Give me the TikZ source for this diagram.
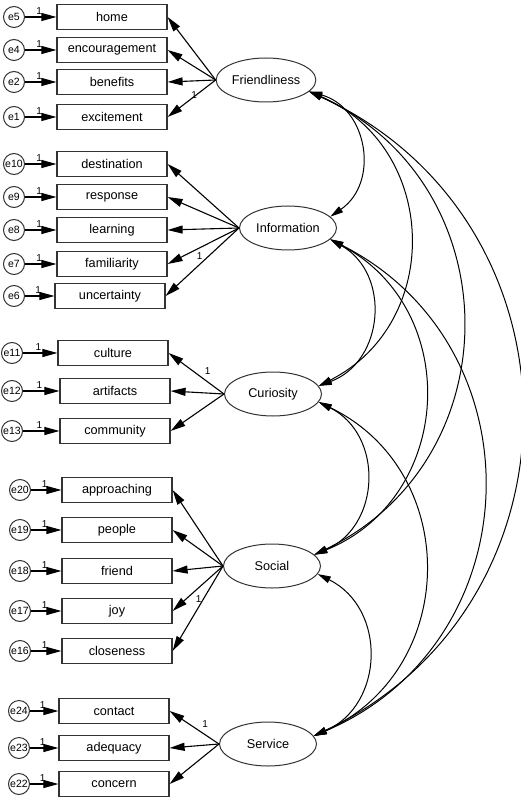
\documentclass[tikz,border=0pt]{standalone}
\usepackage{fontspec}
\setmainfont{Liberation Sans}
\usepackage{tikz}
\usetikzlibrary{shapes.geometric,arrows.meta}

\begin{document}
\begin{tikzpicture}[
    x=1pt, y=1pt,
    ind/.style={rectangle, draw=black!80, line width=1.2pt,
                minimum width=110pt, minimum height=25pt, inner sep=1pt,
                font=\fontsize{12.7}{15}\selectfont},
    lat/.style={ellipse, draw=black!80, line width=1pt,
                minimum width=97pt, minimum height=44pt, inner sep=1pt,
                font=\fontsize{12.7}{15}\selectfont},
    err/.style={circle, draw=black!80, line width=1pt,
                minimum size=21pt, inner sep=0pt,
                font=\fontsize{10.5}{12}\selectfont},
    load/.style={-{Triangle[length=15pt,width=8pt]}, line width=1.1pt},
    cov/.style={{Triangle[length=13pt,width=7pt]}-{Triangle[length=13pt,width=7pt]},
                line width=1pt, bend left=65, looseness=1.22},
    one/.style={font=\fontsize{10}{11}\selectfont, inner sep=0.5pt}
]
\useasboundingbox (0,0) rectangle (520,-799);

% latent factors
\node[lat] (fri) at (266,-80)  {Friendliness};
\node[lat] (inf) at (288,-228) {Information};
\node[lat] (cur) at (273,-394) {Curiosity};
\node[lat] (soc) at (272,-566) {Social};
\node[lat] (ser) at (268,-744) {Service};

% observed items with their errors
\foreach \name/\e/\x/\ex/\y in {
    home/e5/112/14/17, encouragement/e4/112/14/50,
    benefits/e2/112/14/82, excitement/e1/112/14/117,
    destination/e10/112/14/164, response/e9/112/14/197,
    learning/e8/112/14/230, familiarity/e7/112/14/264,
    uncertainty/e6/110/14/296,
    culture/e11/113/12/353, artifacts/e12/115/12/391,
    community/e13/115/12/431,
    approaching/e20/117/20/490, people/e19/117/20/530,
    friend/e18/117/20/571, joy/e17/117/20/611,
    closeness/e16/117/20/651,
    contact/e24/114/19/711, adequacy/e23/114/19/748,
    concern/e22/114/19/784}
{
    \node[ind] (\name) at (\x,-\y) {\name};
    \node[err] (\e) at (\ex,-\y) {\e};
    \draw[load] (\e) -- node[one, pos=0.45, above=1.5pt] {1} (\name);
}

% loadings
\foreach \t in {home,encouragement,benefits}
    \draw[load] (fri.west) -- (\t.east);
\draw[load] (fri.west) -- node[one, pos=0.55, above right=1pt] {1} (excitement.east);

\foreach \t in {destination,response,learning,uncertainty}
    \draw[load] (inf.west) -- (\t.east);
\draw[load] (inf.west) -- node[one, pos=0.62, below right=1pt] {1} (familiarity.east);

\foreach \t in {artifacts,community}
    \draw[load] (cur.west) -- (\t.east);
\draw[load] (cur.west) -- node[one, pos=0.4, above right=2pt] {1} (culture.east);

\foreach \t in {approaching,people,friend,closeness}
    \draw[load] (soc.west) -- (\t.east);
\draw[load] (soc.west) -- node[one, pos=0.6, below right=2pt] {1} (joy.east);

\foreach \t in {adequacy,concern}
    \draw[load] (ser.west) -- (\t.east);
\draw[load] (ser.west) -- node[one, pos=0.4, above right=2pt] {1} (contact.east);

% covariances
\foreach \a/\b in {fri.-15/inf.15, fri.-15/cur.10, fri.-15/soc.15, fri.-15/ser.10,
                   inf.-15/cur.10, inf.-15/soc.15, inf.-15/ser.10,
                   cur.-10/soc.15, cur.-10/ser.10, soc.-10/ser.10}
    \draw[cov] (\a) to (\b);
\end{tikzpicture}
\end{document}
